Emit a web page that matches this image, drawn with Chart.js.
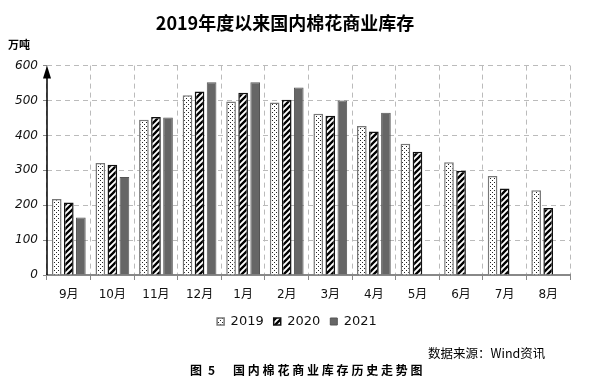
<!DOCTYPE html>
<html>
<head>
<meta charset="utf-8">
<script src="https://cdn.jsdelivr.net/npm/chart.js@4.4.0/dist/chart.umd.min.js"></script>
<style>
  html, body { margin: 0; padding: 0; background: #fff; }
</style>
</head>
<body>
<canvas id="stockChart" width="616" height="392"></canvas>
<script>
const months = ['9月', '10月', '11月', '12月', '1月', '2月', '3月', '4月', '5月', '6月', '7月', '8月'];
const stock2019 = [218, 321, 445, 515, 497, 494, 462, 427, 376, 323, 284, 243];
const stock2020 = [208, 316, 453, 526, 522, 502, 456, 411, 353, 299, 248, 192];
const stock2021 = [165, 281, 451, 552, 552, 537, 500, 465, null, null, null, null];
const yTicks = [0, 100, 200, 300, 400, 500, 600];

const titleText = '2019年度以来国内棉花商业库存';
const unitText = '万吨';
const sourceText = '数据来源：Wind资讯';
const captionText = '国内棉花商业库存历史走势图';

// little tiles used as bar fills
function dotPattern() {
    const c = document.createElement('canvas');
    c.width = 4; c.height = 4;
    const g = c.getContext('2d');
    g.fillStyle = '#fff';
    g.fillRect(0, 0, 4, 4);
    g.fillStyle = '#222';
    g.fillRect(0, 0, 1, 1);
    g.fillRect(2, 2, 1, 1);
    return g.createPattern(c, 'repeat');
}

function stripePattern() {
    const s = 6;
    const c = document.createElement('canvas');
    c.width = s; c.height = s;
    const g = c.getContext('2d');
    g.fillStyle = '#fff';
    g.fillRect(0, 0, s, s);
    g.strokeStyle = '#000';
    g.lineWidth = 2.3;
    g.beginPath();
    g.moveTo(0, s); g.lineTo(s, 0);
    g.moveTo(-s / 2, s / 2); g.lineTo(s / 2, -s / 2);
    g.moveTo(s / 2, s * 1.5); g.lineTo(s * 1.5, s / 2);
    g.stroke();
    return g.createPattern(c, 'repeat');
}

const extras = {
    id: 'extras',
    afterLayout(chart) {
        // legend sits a bit right of the plot centre in the original
        chart.legend.left += 12;
        chart.legend.right += 12;
    },
    afterDraw(chart) {
        const { ctx, chartArea: a } = chart;
        ctx.save();
        // y axis with arrow head
        ctx.strokeStyle = '#000';
        ctx.lineWidth = 1.5;
        ctx.beginPath();
        ctx.moveTo(a.left, a.bottom);
        ctx.lineTo(a.left, a.top + 4);
        ctx.stroke();
        ctx.fillStyle = '#000';
        ctx.beginPath();
        ctx.moveTo(a.left, a.top);
        ctx.lineTo(a.left - 4, a.top + 13);
        ctx.lineTo(a.left + 4, a.top + 13);
        ctx.closePath();
        ctx.fill();

        ctx.textBaseline = 'middle';
        ctx.textAlign = 'left';
        ctx.fillStyle = '#000';
        ctx.font = 'bold 11px "Noto Sans CJK SC"';
        ctx.fillText(unitText, 8, 45);

        ctx.font = '12.5px "Noto Sans CJK SC"';
        ctx.fillText(sourceText, 428, 353);

        ctx.font = 'bold 12px "Noto Sans CJK SC"';
        ctx.fillText('图', 190, 370);
        ctx.fillText('5', 208, 370);
        ctx.letterSpacing = '2.8px';
        ctx.fillText(captionText, 233, 370);
        ctx.restore();
    }
};

new Chart(document.getElementById('stockChart'), {
    type: 'bar',
    data: {
        labels: months,
        datasets: [
            { label: '2019', data: stock2019, backgroundColor: dotPattern(), borderColor: '#777', borderWidth: 1.5 },
            { label: '2020', data: stock2020, backgroundColor: stripePattern(), borderColor: '#111', borderWidth: 1.5 },
            { label: '2021', data: stock2021, backgroundColor: '#666', borderColor: '#555', borderWidth: 1 }
        ]
    },
    options: {
        responsive: false,
        animation: false,
        datasets: { bar: { categoryPercentage: 0.83, barPercentage: 0.8 } },
        layout: { padding: { left: 0, right: 46, top: 0, bottom: 54 } },
        scales: {
            x: {
                afterFit: (s) => { s.height = 30; },
                grid: {
                    offset: true, color: '#bbb', lineWidth: 1,
                    tickLength: 5, tickColor: '#888', tickBorderDash: []
                },
                border: { display: true, color: '#888', width: 2, dash: [5, 4] },
                ticks: { color: '#111', padding: 8, font: { family: '"DejaVu Sans", "Noto Sans CJK SC"', size: 12 } }
            },
            y: {
                min: yTicks[0],
                max: yTicks[yTicks.length - 1],
                afterFit: (s) => { s.width = 47; },
                afterBuildTicks: (s) => { s.ticks = yTicks.map(v => ({ value: v })); },
                grid: { color: '#bbb', lineWidth: 1, tickLength: 4, tickColor: '#888', tickBorderDash: [] },
                border: { display: false, dash: [5, 4] },
                ticks: { color: '#111', padding: 5, font: { family: '"DejaVu Sans"', size: 12, style: 'italic' } }
            }
        },
        plugins: {
            title: {
                display: true,
                text: titleText,
                color: '#000',
                font: { family: '"Noto Sans CJK SC"', size: 18, weight: 'bold' },
                padding: { top: 12, bottom: 32 }
            },
            legend: {
                position: 'bottom',
                labels: {
                    boxWidth: 7, boxHeight: 7, padding: 10, color: '#111',
                    font: { family: '"DejaVu Sans"', size: 13 }
                }
            },
            tooltip: { enabled: false }
        }
    },
    plugins: [extras]
});
</script>
</body>
</html>
